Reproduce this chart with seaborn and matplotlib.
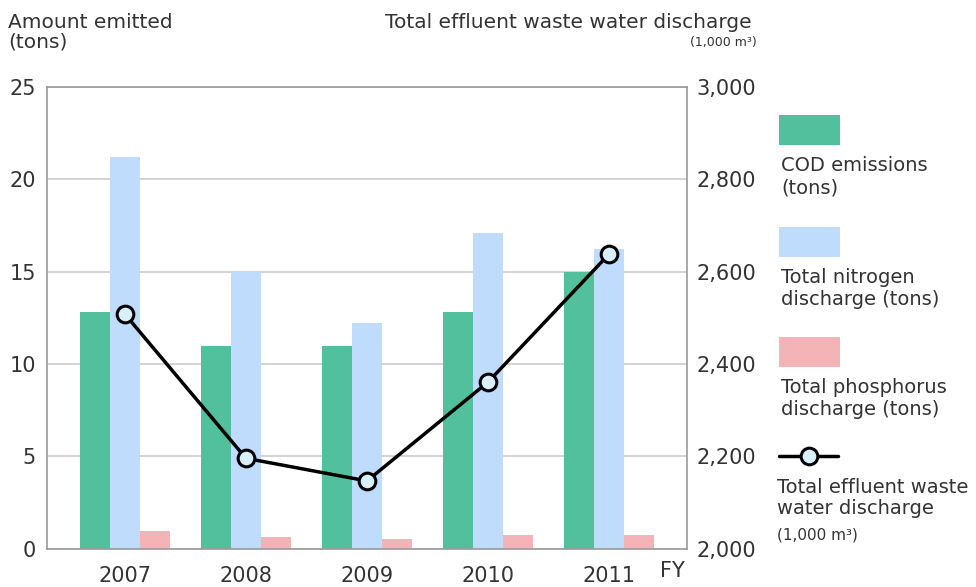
import numpy as np
import pandas as pd
import seaborn as sns
import matplotlib.pyplot as plt
from matplotlib.patches import Rectangle
from matplotlib.lines import Line2D

years = ["2007", "2008", "2009", "2010", "2011"]
cod = [12.8, 11.0, 11.0, 12.8, 15.0]
nitrogen = [21.2, 15.0, 12.2, 17.1, 16.2]
phosphorus = [0.94, 0.63, 0.52, 0.76, 0.76]
effluent = [2508, 2196, 2147, 2361, 2638]

series = ["COD emissions (tons)", "Total nitrogen discharge (tons)", "Total phosphorus discharge (tons)"]
colors = ["#52c09c", "#bfdcfd", "#f4b3b7"]

df = pd.DataFrame({"year": years * 3,
                   "series": np.repeat(series, len(years)),
                   "value": cod + nitrogen + phosphorus})

sns.set_theme(style="white")
plt.rcParams['font.family'] = ['DejaVu Sans']
txt = "#333333"

fig = plt.figure(figsize=(9.76, 5.87), dpi=100)
ax = fig.add_axes([0.048, 0.065, 0.656, 0.787])

sns.barplot(data=df, x="year", y="value", hue="series", palette=colors,
            width=0.75, linewidth=0, saturation=1, ax=ax, legend=False)
ax.set_ylim(0, 25)
ax.set_yticks([0, 5, 10, 15, 20, 25])
ax.set_xlim(-0.645, 4.645)
ax.yaxis.grid(True, color="#cccccc", linewidth=1.2)
ax.set_axisbelow(True)
ax.set_xlabel("")
ax.set_ylabel("")
for s in ax.spines.values():
    s.set_color("#999999")
    s.set_linewidth(1.2)
ax.tick_params(axis="y", length=0, pad=8, labelsize=15, labelcolor=txt)
ax.tick_params(axis="x", length=0, pad=12, labelsize=15, labelcolor=txt)
ax.text(4.42, -0.026, "FY", transform=ax.get_xaxis_transform(), ha="left", va="top",
        fontsize=15, color=txt)

ax2 = ax.twinx()
sns.lineplot(x=np.arange(len(years)), y=effluent, ax=ax2, color="black", linewidth=2.5,
             marker="o", markersize=12, markerfacecolor="#d8f0fc", markeredgecolor="black",
             markeredgewidth=2.2, zorder=5)
ax2.set_ylim(2000, 3000)
ax2.set_yticks([2000, 2200, 2400, 2600, 2800, 3000])
ax2.set_yticklabels([f"{v:,}" for v in [2000, 2200, 2400, 2600, 2800, 3000]])
ax2.tick_params(axis="y", length=0, pad=7, labelsize=15, labelcolor=txt)
for s in ax2.spines.values():
    s.set_visible(False)
ax2.set_xlim(-0.645, 4.645)

# axis titles
fig.text(8 / 976, 1 - 13 / 587, "Amount emitted\n(tons)", ha="left", va="top",
         fontsize=14.5, color=txt, linespacing=1.05)
fig.text(752 / 976, 1 - 13 / 587, "Total effluent waste water discharge", ha="right", va="top",
         fontsize=14.5, color=txt)
fig.text(757 / 976, 1 - 36 / 587, "(1,000 m³)", ha="right", va="top", fontsize=9, color=txt)

# legend
W, H = 976, 587
def patch(x0, y0, x1, y1, c):
    fig.add_artist(Rectangle((x0 / W, 1 - y1 / H), (x1 - x0) / W, (y1 - y0) / H,
                             transform=fig.transFigure, facecolor=c, edgecolor="none"))

labels = ["COD emissions\n(tons)", "Total nitrogen\ndischarge (tons)", "Total phosphorus\ndischarge (tons)"]
tops = [115, 227, 337]
for c, lab, t in zip(colors, labels, tops):
    patch(779, t, 840, t + 30, c)
    fig.text(781 / W, 1 - (t + 41) / H, lab, ha="left", va="top", fontsize=14,
             color=txt, linespacing=1.2)

fig.add_artist(Line2D([779 / W, 838 / W], [1 - 456 / H, 1 - 456 / H], transform=fig.transFigure,
                      color="black", linewidth=2.5))
fig.add_artist(Line2D([809 / W], [1 - 456 / H], transform=fig.transFigure, color="black",
                      marker="o", markersize=12, markerfacecolor="#d8f0fc",
                      markeredgecolor="black", markeredgewidth=2.2))
fig.text(777 / W, 1 - 478 / H, "Total effluent waste\nwater discharge", ha="left", va="top",
         fontsize=14, color=txt, linespacing=1.1)
fig.text(777 / W, 1 - 527 / H, "(1,000 m³)", ha="left", va="top", fontsize=11, color=txt)

fig.savefig("out.png", dpi=100)
